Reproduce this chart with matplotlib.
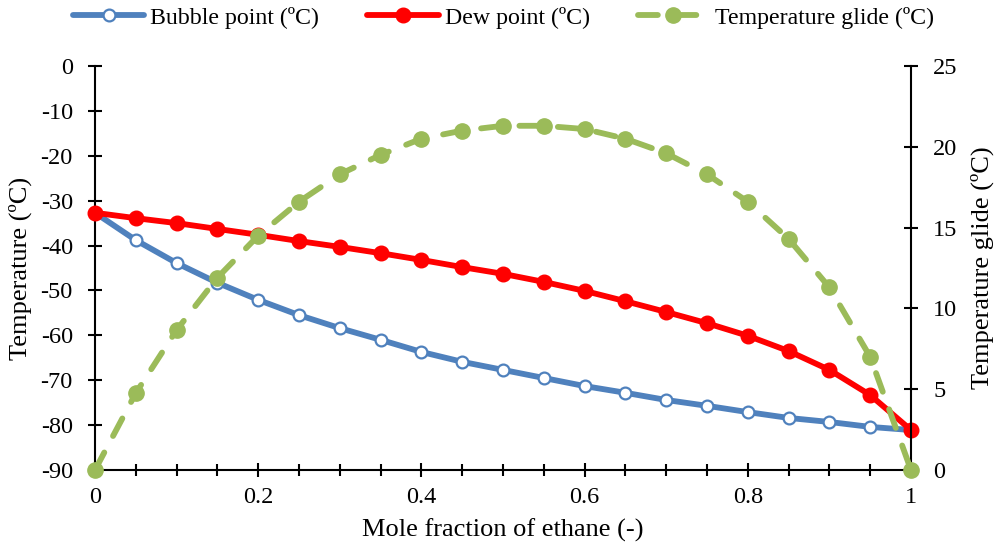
import matplotlib
matplotlib.use("Agg")
import matplotlib.pyplot as plt
from matplotlib.ticker import MultipleLocator, FuncFormatter

plt.rcParams['font.family'] = ['Liberation Serif', 'DejaVu Serif']
plt.rcParams['axes.unicode_minus'] = False

x = [0, 0.05, 0.1, 0.15, 0.2, 0.25, 0.3, 0.35, 0.4, 0.45, 0.5,
     0.55, 0.6, 0.65, 0.7, 0.75, 0.8, 0.85, 0.9, 0.95, 1.0]
bubble = [-32.7, -38.8, -43.9, -48.3, -52.1, -55.5, -58.4, -61.0, -63.7, -65.9, -67.7,
          -69.5, -71.3, -72.8, -74.4, -75.7, -77.1, -78.4, -79.3, -80.4, -81.1]
dew = [-32.7, -33.9, -35.0, -36.3, -37.6, -39.0, -40.3, -41.7, -43.2, -44.8, -46.3,
       -48.1, -50.1, -52.4, -54.8, -57.3, -60.1, -63.5, -67.7, -73.3, -81.1]
glide = [0.0, 4.76, 8.66, 11.9, 14.5, 16.6, 18.3, 19.5, 20.5, 21.0, 21.3,
         21.3, 21.1, 20.5, 19.6, 18.3, 16.6, 14.3, 11.3, 7.0, 0.0]

fig = plt.figure(figsize=(9.97, 5.56), dpi=100)
ax = fig.add_axes([95/997, 86/556, (911-95)/997, (470-66)/556])
ax2 = ax.twinx()

BLUE = '#4F81BD'
RED = '#FF0000'
GREEN = '#9BBB59'
LW = 4.2

l1, = ax.plot(x, bubble, color=BLUE, lw=LW, marker='o', ms=8.5, mfc='white',
              mec=BLUE, mew=1.6, label='Bubble point (ºC)', zorder=3, clip_on=False,
              solid_capstyle='round')
l2, = ax.plot(x, dew, color=RED, lw=LW, marker='o', ms=10.5, mfc=RED, mec=RED,
              label='Dew point (ºC)', zorder=4, clip_on=False, solid_capstyle='round')
l3, = ax2.plot(x, glide, color=GREEN, lw=LW, marker='o', ms=11, mfc=GREEN, mec=GREEN,
               ls=(0, (3.4, 3.2)), dash_capstyle='round',
               label='Temperature glide (ºC)', zorder=5, clip_on=False)

ax.set_zorder(0)
ax2.set_zorder(1)
ax2.patch.set_visible(False)

ax.set_xlim(0, 1)
ax.set_ylim(-90, 0)
ax2.set_ylim(0, 25)
ax.xaxis.set_major_locator(MultipleLocator(0.2))
ax.xaxis.set_minor_locator(MultipleLocator(0.05))
ax.yaxis.set_major_locator(MultipleLocator(10))
ax2.yaxis.set_major_locator(MultipleLocator(5))
ax.xaxis.set_major_formatter(FuncFormatter(lambda v, p: f"{v:g}"))

for a in (ax, ax2):
    a.spines['top'].set_visible(False)
    for s in a.spines.values():
        s.set_linewidth(1.5)
ax.spines['right'].set_visible(False)
ax2.spines['left'].set_visible(False)
ax2.spines['bottom'].set_visible(False)

TS = 17.5
ax.tick_params(axis='x', which='major', direction='inout', length=10, width=1.5,
               labelsize=TS, pad=7)
ax.tick_params(axis='x', which='minor', direction='inout', length=8, width=1.5)
ax.tick_params(axis='y', direction='inout', length=10, width=1.5, labelsize=TS, pad=11)
ax2.tick_params(axis='y', direction='inout', length=10, width=1.5, labelsize=TS, pad=11)

ax.set_xlabel('Mole fraction of ethane (-)', fontsize=19, labelpad=8)
ax.set_ylabel('Temperature (ºC)', fontsize=19, labelpad=6)
ax2.set_ylabel('Temperature glide (ºC)', fontsize=19, labelpad=9)

fig.legend(handles=[l1, l2, l3], loc='center', bbox_to_anchor=(0.505, 0.968),
           ncol=3, frameon=False, fontsize=17.2, handlelength=3.0, columnspacing=2.0,
           handletextpad=0.25, borderaxespad=0, borderpad=0)

fig.savefig('out.png', dpi=100)
